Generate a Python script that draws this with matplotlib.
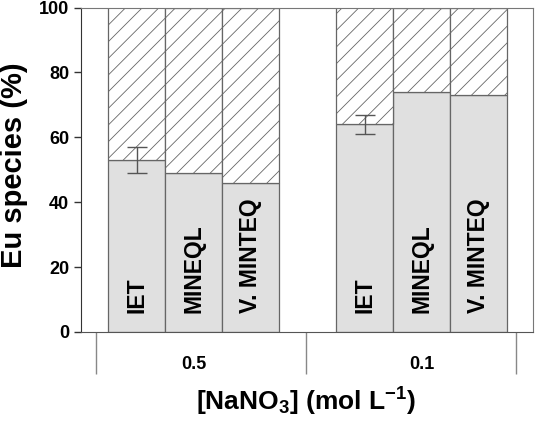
import numpy as np
import matplotlib
matplotlib.use("Agg")
import matplotlib.pyplot as plt

plt.rcParams['font.family'] = ['Liberation Sans', 'DejaVu Sans']
plt.rcParams['mathtext.default'] = 'regular'
plt.rcParams['hatch.linewidth'] = 0.6

# data
concentrations = ["0.5", "0.1"]
methods = ["IET", "MINEQL", "V. MINTEQ"]
eu_free = [[53, 49, 46], [64, 74, 73]]   # lower (grey) part, %
eu_err = [[4, 0, 0], [3, 0, 0]]

fig = plt.figure(figsize=(5.36, 4.45), dpi=100)
ax = fig.add_axes([81 / 536, 1 - 332 / 445, 452 / 536, 324.5 / 445])

group_start = [0, 4]
for g, conc in enumerate(concentrations):
    xs = np.arange(len(methods)) + group_start[g]
    vals = np.array(eu_free[g])
    ax.bar(xs, vals, width=1.0, color='#e0e0e0', edgecolor='#666666', linewidth=0.9, zorder=2)
    ax.bar(xs, 100 - vals, bottom=vals, width=1.0, color='white', edgecolor='#666666',
           hatch='//', linewidth=0.9, zorder=2)
    err = np.array(eu_err[g])
    has = err > 0
    ax.errorbar(xs[has], vals[has], yerr=err[has], fmt='none', ecolor='#555555',
                elinewidth=1, capsize=7.5, capthick=1, zorder=3)
    for x, m in zip(xs, methods):
        ax.text(x, 6, m, rotation=90, ha='center', va='bottom', fontsize=16.5,
                fontweight='bold', color='black', zorder=4)

ax.set_xlim(-0.974, 6.956)
ax.set_ylim(0, 100)
ax.set_yticks([0, 20, 40, 60, 80, 100])
ax.tick_params(axis='y', direction='out', length=5, width=1, labelsize=13, color='#333333')
for lab in ax.get_yticklabels():
    lab.set_fontweight('bold')

# category axis with long separator ticks
ax.set_xticks([-0.71, 2.97, 6.66])
ax.set_xticklabels([])
ax.tick_params(axis='x', which='major', direction='out', length=30, width=1, color='#888888')
ax.set_xticks([1, 5], minor=True)
ax.set_xticklabels(concentrations, minor=True, fontsize=13, fontweight='bold')
ax.tick_params(axis='x', which='minor', length=0, pad=17)

ax.spines['left'].set_color('#333333')
ax.spines['bottom'].set_color('#555555')
ax.spines['top'].set_color('#777777')
ax.spines['right'].set_color('#777777')

fig.text(14 / 536, 1 - 165 / 445, "Eu species (%)", rotation=90, ha='center', va='center',
         fontsize=21, fontweight='bold')
fig.text(306 / 536, 1 - 402 / 445, "[NaNO$_3$] (mol L$^{-1}$)", ha='center', va='center',
         fontsize=19, fontweight='bold')

fig.savefig("out.png", dpi=100)
